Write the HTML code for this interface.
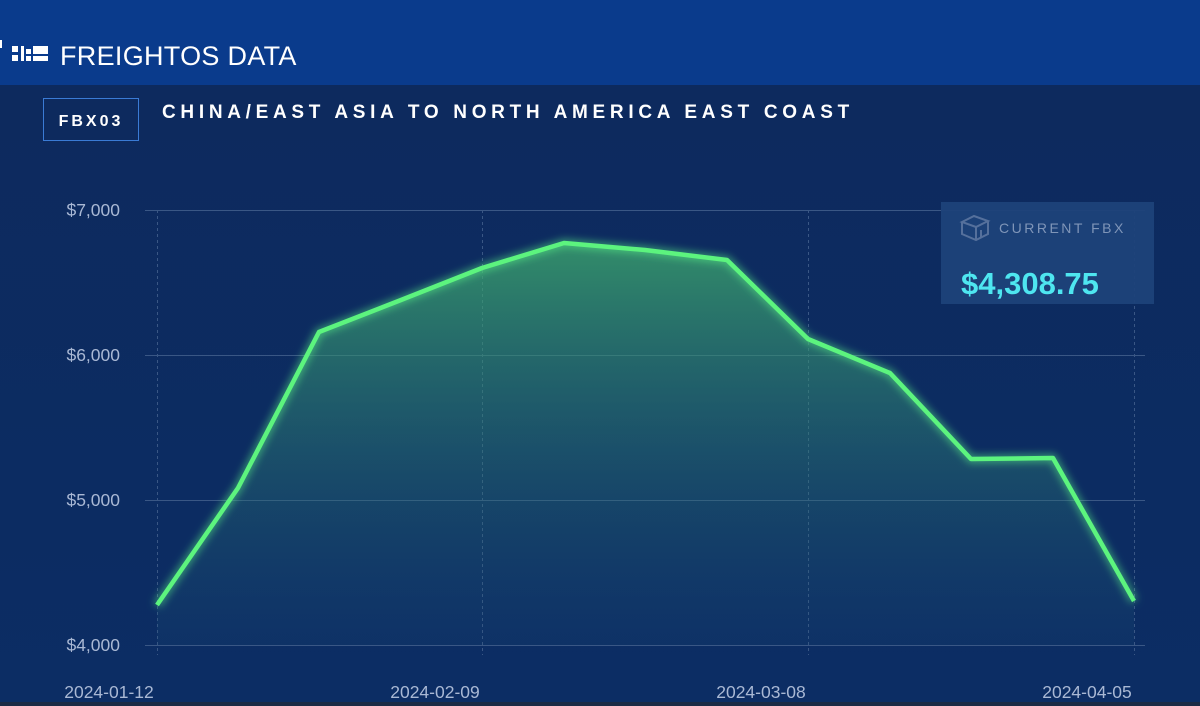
<!DOCTYPE html>
<html><head><style>
body{margin:0;width:1200px;height:706px;overflow:hidden;background:#0c2c60;font-family:"Liberation Sans",sans-serif}
</style></head><body>
<svg width="1200" height="706" viewBox="0 0 1200 706" style="position:absolute;left:0;top:0">
<defs>
<linearGradient id="bg" x1="0" y1="0" x2="0" y2="1"><stop offset="0" stop-color="#0d2a5e"/><stop offset="1" stop-color="#0c2d64"/></linearGradient>
<linearGradient id="fill" x1="0" y1="0" x2="0" y2="1"><stop offset="0" stop-color="#3fae6e" stop-opacity="0.75"/><stop offset="1" stop-color="#1b4f78" stop-opacity="0.15"/></linearGradient>
<filter id="glow" x="-10%" y="-10%" width="120%" height="120%"><feGaussianBlur stdDeviation="4"/></filter>
</defs>
<rect x="0" y="85" width="1200" height="621" fill="url(#bg)"/>
<rect x="0" y="0" width="1200" height="85" fill="#0a3b8c"/>
<rect x="0" y="702" width="1200" height="4" fill="#1b2a44"/>
<rect x="0" y="40" width="2" height="8" fill="#fff"/>
<g fill="#fff"><rect x="12" y="46" width="6" height="6"/><rect x="12" y="55" width="6" height="6"/><rect x="21" y="46" width="3" height="15"/><rect x="26" y="49" width="5" height="5"/><rect x="26" y="56" width="5" height="5"/><rect x="33" y="46" width="15" height="8"/><rect x="33" y="56" width="15" height="5"/></g>
<text x="60" y="65" fill="#fff" font-size="27" letter-spacing="0.3">FREIGHTOS DATA</text>
<rect x="43.5" y="98.5" width="95" height="42" fill="none" stroke="#3a7bd5" stroke-width="1"/>
<text x="91" y="126" fill="#fff" font-size="16" font-weight="bold" text-anchor="middle" letter-spacing="3">FBX03</text>
<text x="162" y="118" fill="#fff" font-size="19" font-weight="bold" letter-spacing="4.7">CHINA/EAST ASIA TO NORTH AMERICA EAST COAST</text>
<g stroke="#3a5785" stroke-width="1">
<line x1="145" y1="210.5" x2="1145" y2="210.5"/><line x1="145" y1="355.5" x2="1145" y2="355.5"/><line x1="145" y1="500.5" x2="1145" y2="500.5"/><line x1="145" y1="645.5" x2="1145" y2="645.5"/>
</g>
<g stroke="#3a5785" stroke-width="1" stroke-dasharray="3,3">
<line x1="157.5" y1="210" x2="157.5" y2="655"/><line x1="482.5" y1="210" x2="482.5" y2="655"/><line x1="808.5" y1="210" x2="808.5" y2="655"/><line x1="1134.5" y1="210" x2="1134.5" y2="655"/>
</g>
<g fill="#a9b8d4" font-size="17.5" text-anchor="end">
<text x="120" y="216">$7,000</text><text x="120" y="361">$6,000</text><text x="120" y="506">$5,000</text><text x="120" y="651">$4,000</text>
</g>
<g fill="#a9b8d4" font-size="17.5" text-anchor="middle">
<text x="109" y="698">2024-01-12</text><text x="435" y="698">2024-02-09</text><text x="761" y="698">2024-03-08</text><text x="1087" y="698">2024-04-05</text>
</g>
<path d="M157,605 L238,488 L319,332 L401,300 L482,268 L564,243 L645,250 L727,260 L808,339 L890,373 L971,459 L1053,458 L1134,601 L1134,645 L157,645 Z" fill="url(#fill)"/>
<polyline points="157,605 238,488 319,332 401,300 482,268 564,243 645,250 727,260 808,339 890,373 971,459 1053,458 1134,601" fill="none" stroke="#5cff8a" stroke-width="8" stroke-opacity="0.5" filter="url(#glow)"/>
<polyline points="157,605 238,488 319,332 401,300 482,268 564,243 645,250 727,260 808,339 890,373 971,459 1053,458 1134,601" fill="none" stroke="#5cf47e" stroke-width="4.5" stroke-linejoin="round"/>
<rect x="941" y="202" width="213" height="102" fill="#1e4279" opacity="0.95"/>
<g fill="none" stroke="#55709c" stroke-width="2"><path d="M962,222 L974,216 L988,221 L976,227 Z"/><path d="M962,222 L962,234 L976,240 L988,234 L988,221"/><path d="M976,227 L976,240"/><path d="M981,230 L981,237"/></g>
<text x="999" y="233" fill="#7f95b8" font-size="14" letter-spacing="2.5">CURRENT FBX</text>
<text x="961" y="294" fill="#4ee6f0" font-size="31" font-weight="bold">$4,308.75</text>
</svg>
</body></html>
